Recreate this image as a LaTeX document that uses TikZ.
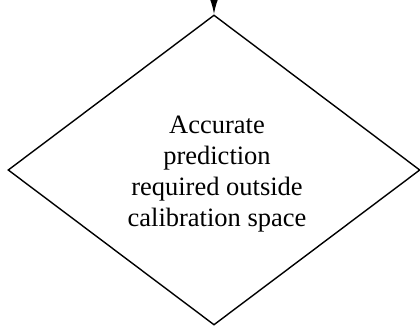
\documentclass[tikz,border=0pt]{standalone}
\usepackage{fontspec}
\setmainfont{Liberation Serif}
\usetikzlibrary{arrows.meta,shapes.geometric}
\begin{document}
\begin{tikzpicture}[x=1pt,y=-1pt,
  decision/.style={draw, line width=1.4pt, diamond, inner sep=0pt,
    minimum width=412pt, minimum height=310pt},
  label/.style={align=center, inner sep=0pt,
    font=\fontsize{26.5}{31}\selectfont},
  flow/.style={line width=1.4pt, -{Latex[length=15pt,width=8pt]}}]
\useasboundingbox (0,0) rectangle (420,329);
\node[decision] (d) at (214,170) {};
\node[label] (t) at (217,174) {Accurate\\prediction\\required outside\\calibration space};
\coordinate (in) at (214,-4);
\draw[flow] (in) -- (d.north);
\end{tikzpicture}
\end{document}
